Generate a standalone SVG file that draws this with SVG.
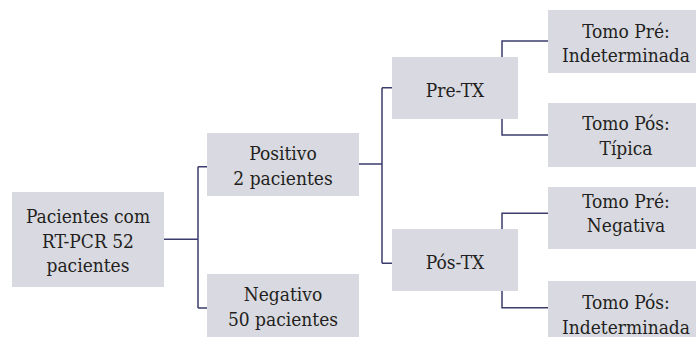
<svg xmlns="http://www.w3.org/2000/svg" width="696" height="337" viewBox="0 0 696 337">
<style>
.box{fill:#d9d9e1;}
.t{font-family:'DejaVu Serif',serif;font-size:19px;font-stretch:condensed;fill:#231f20;text-anchor:middle;}
.c{fill:none;stroke:#3c3c6e;stroke-width:1.5;}
</style>
<rect width="696" height="337" fill="#ffffff"/>
<g id="connectors">
<path class="c" d="M164 239.3H198M198 166.7V308M198 166.7H207M198 308H207"/>
<path class="c" d="M359 164H382M382 87.7V263.3M382 87.7H392M382 263.3H392"/>
<path class="c" d="M502 57V41H548M502 119V135H548"/>
<path class="c" d="M502 229V213.3H548M502 291V307.7H548"/>
</g>
<g id="root">
<rect class="box" x="12" y="192" width="152" height="95"/>
<text class="t" x="88" y="223">Pacientes com</text>
<text class="t" x="88" y="247.5">RT-PCR 52</text>
<text class="t" x="88" y="272">pacientes</text>
</g>
<g id="positivo">
<rect class="box" x="207" y="133" width="152" height="63"/>
<text class="t" x="283" y="160">Positivo</text>
<text class="t" x="283" y="184.5">2 pacientes</text>
</g>
<g id="negativo">
<rect class="box" x="207" y="274" width="152" height="63"/>
<text class="t" x="283" y="301">Negativo</text>
<text class="t" x="283" y="325.5">50 pacientes</text>
</g>
<g id="pre-tx">
<rect class="box" x="392" y="57" width="126" height="62"/>
<text class="t" x="455" y="96.7">Pre-TX</text>
</g>
<g id="pos-tx">
<rect class="box" x="392" y="229" width="126" height="62"/>
<text class="t" x="455" y="268.5">Pós-TX</text>
</g>
<g id="tomo-pre-1">
<rect class="box" x="548" y="10" width="156" height="63"/>
<text class="t" x="626" y="37.5">Tomo Pré:</text>
<text class="t" x="626" y="62.3">Indeterminada</text>
</g>
<g id="tomo-pos-1">
<rect class="box" x="548" y="103" width="156" height="64"/>
<text class="t" x="626" y="130">Tomo Pós:</text>
<text class="t" x="626" y="154.5">Típica</text>
</g>
<g id="tomo-pre-2">
<rect class="box" x="548" y="187" width="156" height="62"/>
<text class="t" x="626" y="207.5">Tomo Pré:</text>
<text class="t" x="626" y="232">Negativa</text>
</g>
<g id="tomo-pos-2">
<rect class="box" x="548" y="281" width="156" height="63"/>
<text class="t" x="626" y="309.3">Tomo Pós:</text>
<text class="t" x="626" y="333.5">Indeterminada</text>
</g>
</svg>
